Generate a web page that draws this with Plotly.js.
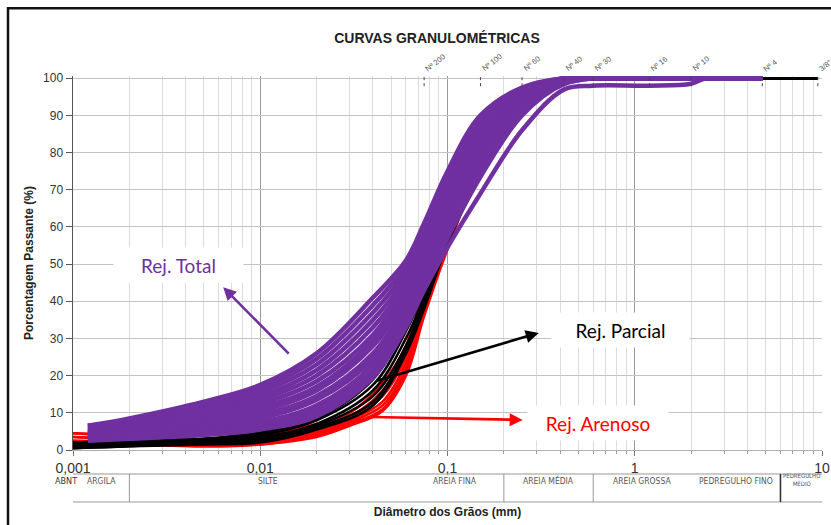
<!DOCTYPE html>
<html><head><meta charset="utf-8">
<script src="https://cdn.plot.ly/plotly-3.0.1.min.js"></script>
<style>html,body{margin:0;padding:0;background:#fff;}#chart{width:831px;height:525px;}</style>
</head><body><div id="chart"></div>
<script>
// ---------- DATA ----------
const xPurple = [0.0012, 0.002, 0.005, 0.01, 0.02, 0.04, 0.06, 0.075, 0.1, 0.15, 0.25, 0.42, 0.6, 1.2, 2.0, 2.4, 4.8];
const purpleCurves = [
  [6.5, 8.5, 13, 17.5, 26, 41, 51, 61, 75, 90, 97.5, 100, 100, 100, 100, 100, 100],
  [6.5, 8, 12.5, 16.5, 24.5, 39, 49.5, 59, 73.5, 89, 97, 100, 100, 100, 100, 100, 100],
  [6, 7.5, 11.5, 15.5, 23, 37, 48, 57.5, 72, 87.5, 96.5, 100, 100, 100, 100, 100, 100],
  [5.5, 7, 11, 14.5, 21.5, 35, 46.5, 56, 70.5, 86, 96, 100, 100, 100, 100, 100, 100],
  [5, 6.5, 10, 13.5, 20, 33, 45, 54.5, 69, 85, 95.5, 100, 100, 100, 100, 100, 100],
  [5, 6, 9.5, 12.5, 18.5, 31, 43.5, 53, 67.5, 83.5, 95, 100, 100, 100, 100, 100, 100],
  [4.5, 5.5, 8.5, 11.5, 17, 29.5, 42, 51.5, 66, 82, 94.5, 100, 100, 100, 100, 100, 100],
  [4.5, 5, 8, 10.5, 16, 28, 40.5, 50, 64.5, 81, 94, 99.5, 100, 100, 100, 100, 100],
  [4, 4.5, 7, 9.5, 14.5, 26, 39, 48.5, 63, 79.5, 93.5, 99.5, 100, 100, 100, 100, 100],
  [4, 4.5, 6.5, 8.5, 13.5, 24.5, 38, 47, 61.5, 78, 93, 99, 100, 100, 100, 100, 100],
  [3.5, 4, 5.5, 7.5, 12, 23, 37, 46, 60, 77, 92, 99, 100, 100, 100, 100, 100],
  [3.5, 3.5, 5, 6.5, 11, 21.5, 36, 45, 58.5, 75, 91.5, 98.5, 100, 100, 100, 100, 100],
  [3, 3.5, 4.5, 6, 10, 20.5, 35, 44, 57, 73.5, 90, 98.5, 100, 100, 100, 100, 100],
  [2.5, 3, 4, 5.5, 9, 19.5, 33, 43, 54.5, 69, 86, 97, 98, 98, 98.5, 100, 100]
];
const xBlack = [0.001, 0.002, 0.005, 0.01, 0.02, 0.04, 0.06, 0.075, 0.1, 0.15, 0.25, 0.42, 0.6, 1.2, 2.0, 4.8, 9.5];
const blackCurves = [
  [2, 2.5, 3, 5, 9, 21, 36, 46, 60, 80, 95.5, 100, 100, 100, 100, 100, 100],
  [2, 2.5, 3, 4.5, 8.5, 19, 34, 44, 59, 79, 95, 100, 100, 100, 100, 100, 100],
  [1.5, 2, 2.5, 4, 8, 17.5, 32, 42.5, 58, 78, 94.5, 100, 100, 100, 100, 100, 100],
  [1.5, 2, 2.5, 3.5, 7, 16, 30, 41, 57, 77, 94, 99.5, 100, 100, 100, 100, 100],
  [1, 1.5, 2, 3, 6.5, 14.5, 28, 40, 56.5, 76, 93.5, 99.5, 100, 100, 100, 100, 100],
  [0.5, 1, 2, 2.5, 6, 13, 27, 39, 56, 75, 93, 99, 100, 100, 100, 100, 100],
  [0.5, 1, 1.5, 2, 5.5, 12, 26, 38, 55.5, 74, 92.5, 99, 100, 100, 100, 100, 100]
];
const xRed = [0.001, 0.002, 0.005, 0.01, 0.02, 0.03, 0.045, 0.06, 0.075, 0.1, 0.15, 0.25, 0.42];
const redCurves = [
  [4.5, 4, 2.5, 4, 7, 10, 18, 28, 43, 60, 80, 97, 100],
  [4.5, 3.5, 2, 3.5, 6.5, 9, 16, 26.5, 42, 59, 79, 96.5, 100],
  [3.5, 3, 2, 3, 6, 8.5, 14.5, 25, 41, 58, 78.5, 96, 100],
  [3.5, 2.5, 1.5, 2.5, 5, 8, 13, 23.5, 40, 57, 78, 96, 100],
  [2.5, 2, 1.5, 2, 4.5, 7.5, 12, 22, 39, 56, 77.5, 95.5, 100],
  [2.5, 2, 1, 1.5, 4, 7, 11, 21, 37.5, 55, 77, 95, 100],
  [2, 1.5, 1, 1.5, 3.5, 6.5, 10.5, 20, 36, 54, 76, 95, 100]
];
const groupNames = ['Rej. Total', 'Rej. Parcial', 'Rej. Arenoso'];
const xTickVals = [0.001, 0.01, 0.1, 1, 10];
const xTickText = ['0,001', '0,01', '0,1', '1', '10'];
const yTickVals = [0, 10, 20, 30, 40, 50, 60, 70, 80, 90, 100];
const sieveSizes = [0.075, 0.15, 0.25, 0.42, 0.6, 1.2, 2.0, 4.8, 9.5];
const sieveNames = ['Nº 200', 'Nº 100', 'Nº 60', 'Nº 40', 'Nº 30', 'Nº 16', 'Nº 10', 'Nº 4', '3/8"'];
const abntBounds = [0.001, 0.002, 0.06, 0.2, 0.6, 2, 6, 10];
const abntNames = ['ARGILA', 'SILTE', 'AREIA FINA', 'AREIA MÉDIA', 'AREIA GROSSA', 'PEDREGULHO FINO', 'PEDREGULHO<br>MÉDIO'];
const abntDrawnSeparators = [0.002, 0.2, 0.6, 6];

// ---------- STYLE / LAYOUT ----------
const W = 831, H = 525, L = 73, R = 9, T = 75.8, B = 75;
const plotW = W - L - R, plotH = H - T - B;
const py = p => (H - B - p) / plotH;   // pixel row -> paper y
const px = p => (p - L) / plotW;       // pixel col -> paper x
const lg = Math.log10;

const PURPLE = '#7030A0', RED = '#FF0000', BLACK = '#000000';
const traces = [];
redCurves.forEach(c => traces.push({x: xRed, y: c, type: 'scatter', mode: 'lines', name: groupNames[2],
  line: {color: RED, width: 2.6, shape: 'spline', smoothing: 1}, hoverinfo: 'skip'}));
blackCurves.forEach(c => traces.push({x: xBlack, y: c, type: 'scatter', mode: 'lines', name: groupNames[1],
  line: {color: BLACK, width: 2.6, shape: 'spline', smoothing: 1}, hoverinfo: 'skip'}));
purpleCurves.forEach(c => traces.push({x: xPurple, y: c, type: 'scatter', mode: 'lines', name: groupNames[0],
  line: {color: PURPLE, width: 4.5, shape: 'spline', smoothing: 1}, hoverinfo: 'skip'}));

const minorVals = [];
[0.001, 0.01, 0.1, 1].forEach(d => { for (let k = 2; k <= 9; k++) minorVals.push(+(d * k).toPrecision(3)); });

const shapes = [];
// outer frame
shapes.push({type: 'rect', xref: 'paper', yref: 'paper', x0: px(8), x1: px(845), y0: py(540), y1: py(8),
  line: {color: '#111', width: 2.5}, fillcolor: 'rgba(0,0,0,0)', layer: 'above'});
// sieve dotted ticks
sieveSizes.forEach(s => shapes.push({type: 'line', xref: 'x', yref: 'paper', x0: s, x1: s, y0: py(86), y1: py(76),
  line: {color: '#444', width: 1, dash: 'dot'}, layer: 'above'}));
// ABNT table lines
shapes.push({type: 'line', xref: 'x', yref: 'paper', x0: abntBounds[0], x1: abntBounds[abntBounds.length - 1], y0: py(474), y1: py(474), line: {color: '#999', width: 1}});
shapes.push({type: 'line', xref: 'x', yref: 'paper', x0: abntBounds[0], x1: abntBounds[abntBounds.length - 1], y0: py(502), y1: py(502), line: {color: '#999', width: 1}});
abntDrawnSeparators.forEach(s => shapes.push({type: 'line', xref: 'x', yref: 'paper', x0: s, x1: s, y0: py(474), y1: py(502),
  line: {color: s === 6 ? '#333' : '#999', width: s === 6 ? 1.6 : 1}}));

const annotations = [];
// sieve labels
sieveSizes.forEach((s, i) => annotations.push({x: lg(s), y: py(76), xref: 'x', yref: 'paper', text: sieveNames[i],
  showarrow: false, textangle: -38, xanchor: 'left', yanchor: 'bottom', xshift: -3,
  font: {family: 'Liberation Sans, Arial', size: 7.5, color: '#555'}}));
// ABNT labels
annotations.push({x: px(53), y: py(488), xref: 'paper', yref: 'paper', text: 'ABNT', showarrow: false,
  font: {family: 'Liberation Sans Narrow, DejaVu Sans Condensed, Arial', size: 9, color: '#333'}});
abntNames.forEach((n, i) => annotations.push({x: (lg(abntBounds[i]) + lg(abntBounds[i + 1])) / 2, y: py(i === 6 ? 489 : 488), xref: 'x', yref: 'paper',
  text: n, showarrow: false, font: {family: 'Liberation Sans Narrow, DejaVu Sans Condensed, Arial', size: i === 6 ? 6 : 8.5, color: '#555'}}));
// group labels and arrows
const arrow = (hx, hy, tx, ty, col) => ({x: lg(hx), y: hy, ax: lg(tx), ay: ty, xref: 'x', yref: 'y', axref: 'x', ayref: 'y',
  text: '', showarrow: true, arrowhead: 2, arrowsize: 1, arrowwidth: 2.6, arrowcolor: col, standoff: 0, startstandoff: 0});
const label = (x, y, text, col, w) => ({x: lg(x), y: y, xref: 'x', yref: 'y', text: text, showarrow: false,
  bgcolor: '#ffffff', width: w, height: 32, font: {family: 'Lato, Open Sans, sans-serif', size: 19, color: col}});
annotations.push(arrow(0.00634, 43.8, 0.01445, 25.5, PURPLE));
annotations.push(label(0.00364, 49.7, groupNames[0], PURPLE, 127));
annotations.push(arrow(0.307, 31.5, 0.0412, 18.5, BLACK));
annotations.push(label(0.841, 32.3, groupNames[1], BLACK, 135));
annotations.push(arrow(0.252, 8.1, 0.0387, 8.9, RED));
annotations.push(label(0.634, 7.3, groupNames[2], RED, 138));

const layout = {
  width: W, height: H,
  margin: {l: L, r: R, t: T, b: B, pad: 0},
  paper_bgcolor: '#fff', plot_bgcolor: '#fff',
  showlegend: false,
  title: {text: 'CURVAS GRANULOMÉTRICAS', x: px(437), xref: 'paper', xanchor: 'center', y: 1 - 38 / H, yref: 'container', yanchor: 'middle',
    font: {family: 'Liberation Sans, Arial', size: 14, color: '#222', weight: 'bold'}},
  xaxis: {type: 'log', range: [-3, 1], tickmode: 'array', tickvals: xTickVals, ticktext: xTickText,
    ticks: 'outside', ticklen: 5, tickcolor: '#777', showgrid: true, gridcolor: '#9a9a9a', gridwidth: 1,
    minor: {tickmode: 'array', tickvals: minorVals, showgrid: true, gridcolor: '#dcdcdc', gridwidth: 1, ticks: 'outside', ticklen: 3, tickcolor: '#999'},
    showline: true, linecolor: '#b0b0b0', zeroline: false, automargin: false,
    tickfont: {family: 'Liberation Sans, Arial', size: 14, color: '#333'},
    title: {text: 'Diâmetro dos Grãos (mm)', standoff: 32, font: {family: 'Liberation Sans, Arial', size: 12, color: '#222', weight: 'bold'}}},
  yaxis: {range: [0, 100.6], tickmode: 'array', tickvals: yTickVals, ticks: 'outside', ticklen: 6, tickcolor: '#555',
    showgrid: true, gridcolor: '#c4c4c4', gridwidth: 1, showline: true, linecolor: '#555', linewidth: 1.5, zeroline: false, automargin: false,
    tickfont: {family: 'Liberation Sans, Arial', size: 12, color: '#333'},
    title: {text: 'Porcentagem Passante (%)', standoff: 7, font: {family: 'Liberation Sans, Arial', size: 12, color: '#222', weight: 'bold'}}},
  shapes: shapes,
  annotations: annotations
};
Plotly.newPlot('chart', traces, layout, {staticPlot: true});
</script>
</body></html>
